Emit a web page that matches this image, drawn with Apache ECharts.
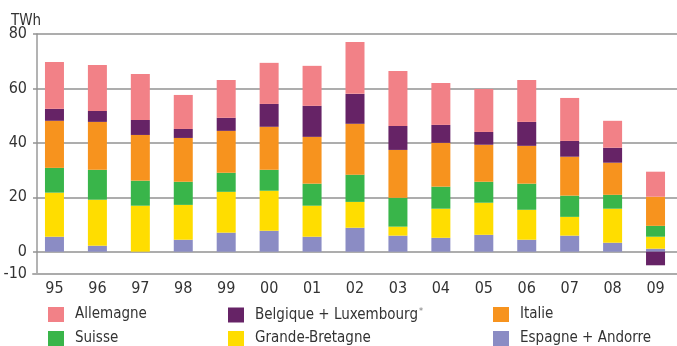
<!DOCTYPE html>
<html>
<head>
<meta charset="utf-8">
<script src="https://cdn.jsdelivr.net/npm/echarts@6/dist/echarts.min.js"></script>
<style>
  html, body { margin: 0; padding: 0; background: #fff; }
  #chart { width: 677px; height: 346px; }
</style>
</head>
<body>
<div id="chart"></div>
<script>
// Electricity export balance by country, TWh, 1995-2009
const years = ['95','96','97','98','99','00','01','02','03','04','05','06','07','08','09'];

const espagne        = [5.5, 2.2, 0.0, 4.4, 7.0, 7.7, 5.5, 8.8, 5.9, 5.1, 6.2, 4.4, 5.9, 3.3, 1.1];
const grandeBretagne = [16.2, 16.9, 16.9, 12.8, 15.0, 14.7, 11.4, 9.5, 3.3, 10.7, 11.8, 11.0, 6.9, 12.5, 4.4];
const suisse         = [9.1, 11.0, 9.2, 8.5, 7.0, 7.7, 8.1, 10.0, 10.6, 8.1, 7.7, 9.6, 7.8, 5.1, 4.0];
const italie         = [17.3, 17.6, 16.8, 16.1, 15.4, 15.8, 17.2, 18.7, 17.6, 16.1, 13.6, 13.9, 14.3, 11.8, 10.7];
const belgique       = [4.4, 4.0, 5.5, 3.3, 4.8, 8.4, 11.4, 11.0, 8.8, 6.6, 4.7, 8.8, 5.8, 5.5, -5.0];
const allemagne      = [17.2, 16.9, 16.9, 12.5, 13.9, 15.1, 14.7, 19.1, 20.2, 15.4, 15.8, 15.4, 15.8, 9.9, 9.2];

// y axis: bottom edge carries the "-10" label
const yTickValues = [-8.2, 0, 20, 40, 60, 80];
const yTickLabels = ['-10', '0', '20', '40', '60', '80'];
const gridValues = [0, 20, 40, 60, 80];

const FONT = "'Liberation Sans Narrow', 'DejaVu Sans Condensed', 'Roboto', sans-serif";
const BELG = 'Belgique + Luxembourg';

const colors = {
  'Espagne + Andorre': '#8b8cc4',
  'Grande-Bretagne': '#ffdd00',
  'Suisse': '#39b54a',
  'Italie': '#f7931e',
  [BELG]: '#662366',
  'Allemagne': '#f28187'
};

// stacked bottom to top
const stackOrder = [
  ['Espagne + Andorre', espagne],
  ['Grande-Bretagne', grandeBretagne],
  ['Suisse', suisse],
  ['Italie', italie],
  [BELG, belgique],
  ['Allemagne', allemagne]
];

// legend grid: two rows, three columns
const legendRows = [
  ['Allemagne', BELG, 'Italie'],
  ['Suisse', 'Grande-Bretagne', 'Espagne + Andorre']
];
const legendColumnsX = [48, 228, 493];
const legendRowsY = [307, 331];

const series = stackOrder.map(([name, values], i) => {
  const s = {
    name: name,
    type: 'bar',
    stack: 'total',
    barWidth: 19,
    data: values,
    itemStyle: { color: colors[name] },
    emphasis: { disabled: true }
  };
  if (i === 0) {
    s.markLine = {
      silent: true,
      symbol: 'none',
      z: 1,
      label: { show: false },
      lineStyle: { color: '#929292', width: 1.5, type: 'solid' },
      data: gridValues.map(v => ({ yAxis: v }))
    };
  }
  return s;
});

const legends = [];
legendRows.forEach((row, r) => {
  row.forEach((name, c) => {
    legends.push({
      data: [name],
      left: legendColumnsX[c],
      top: legendRowsY[r],
      icon: 'rect',
      itemWidth: 16,
      itemHeight: 15,
      padding: 0,
      selectedMode: false,
      textStyle: {
        fontFamily: FONT,
        fontSize: 15,
        color: '#333',
        padding: [0, 0, 0, 6],
        rich: {
          sup: { fontFamily: FONT, fontSize: 9, color: '#777', padding: [0, 0, 7, 1] }
        }
      },
      formatter: n => n === BELG ? n + '{sup|*}' : n
    });
  });
});

const chart = echarts.init(document.getElementById('chart'), null, { renderer: 'canvas' });
chart.setOption({
  animation: false,
  backgroundColor: '#ffffff',
  title: {
    text: 'TWh',
    left: 11,
    top: 14,
    padding: 0,
    textStyle: { fontFamily: FONT, fontSize: 15, fontWeight: 'normal', color: '#333' }
  },
  legend: legends,
  grid: { left: 33, right: 0, top: 34, height: 240 },
  xAxis: {
    type: 'category',
    data: years,
    axisLine: { onZero: false, lineStyle: { color: '#ababab', width: 2 } },
    axisTick: { show: false },
    axisLabel: { fontFamily: FONT, fontSize: 16, color: '#333', margin: 7 }
  },
  yAxis: {
    type: 'value',
    min: -8.2,
    max: 80,
    offset: -4,
    splitLine: { show: false },
    axisTick: { show: false },
    axisLine: { show: true, lineStyle: { color: '#9a9a9a', width: 1.5 } },
    axisLabel: {
      customValues: yTickValues,
      fontFamily: FONT,
      fontSize: 16,
      color: '#333',
      margin: 10,
      formatter: v => {
        const i = yTickValues.findIndex(t => Math.abs(t - v) < 1e-6);
        return i >= 0 ? yTickLabels[i] : '';
      }
    }
  },
  series: series
});
</script>
</body>
</html>
